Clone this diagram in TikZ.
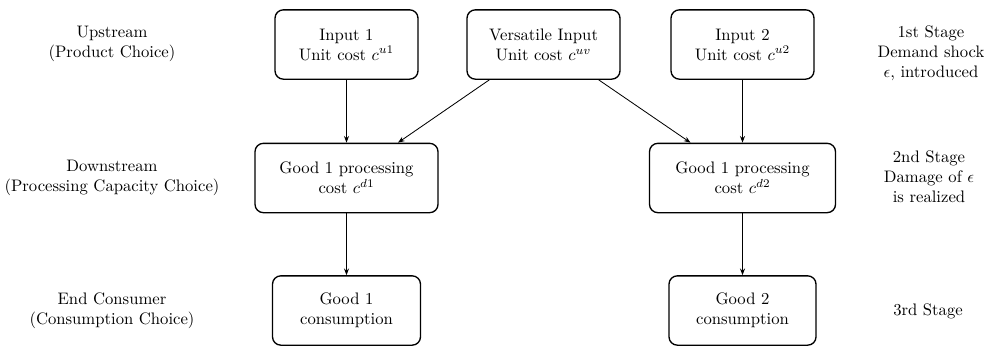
\documentclass[tikz,border=0pt]{standalone}
\usetikzlibrary{arrows.meta}
\begin{document}
\begin{tikzpicture}[x=0.6pt,y=-0.6pt,
  box/.style={draw,line width=0.8pt,rounded corners=5pt,align=center,inner sep=0pt,minimum height=41.6pt},
  lab/.style={align=center,inner sep=0pt},
  arr/.style={-{Stealth[length=4pt,width=3pt]},line width=0.5pt}]
\useasboundingbox (0,0) rectangle (987,346);
% boxes
\node[box,minimum width=85.8pt] (in1) at (346.5,44.5) {Input 1\\Unit cost $c^{u1}$};
\node[box,minimum width=91.8pt] (vers) at (543.5,44.5) {Versatile Input\\Unit cost $c^{uv}$};
\node[box,minimum width=85.8pt] (in2) at (742.5,44.5) {Input 2\\Unit cost $c^{u2}$};
\node[box,minimum width=109.8pt] (p1) at (346.5,178) {Good 1 processing\\cost $c^{d1}$};
\node[box,minimum width=111.6pt] (p2) at (742.5,178) {Good 1 processing\\cost $c^{d2}$};
\node[box,minimum width=88.8pt] (g1) at (346.5,310.5) {Good 1\\consumption};
\node[box,minimum width=88.2pt] (g2) at (742.5,310.5) {Good 2\\consumption};
% left labels
\node[lab] (up) at (112,43.5) {Upstream\\(Product Choice)};
\node[lab] (down) at (112,178) {Downstream\\(Processing Capacity Choice)};
\node[lab] (end) at (112,311) {End Consumer\\(Consumption Choice)};
% right labels
\node[lab] (s1) at (931,53) {1st Stage\\Demand shock\\$\epsilon$, introduced};
\node[lab] (s2) at (929,177) {2nd Stage\\Damage of $\epsilon$\\is realized};
\node[lab] (s3) at (928,311) {3rd Stage};
% arrows
\draw[arr] (in1.south) -- (in1.south |- p1.north);
\draw[arr] (in2.south) -- (in2.south |- p2.north);
\draw[arr] ([xshift=13.8pt]vers.south west) -- ([xshift=30.9pt]p1.north);
\draw[arr] ([xshift=-13.2pt]vers.south east) -- ([xshift=-31.2pt]p2.north);
\draw[arr] (p1.south) -- (p1.south |- g1.north);
\draw[arr] (p2.south) -- (p2.south |- g2.north);
\end{tikzpicture}
\end{document}
